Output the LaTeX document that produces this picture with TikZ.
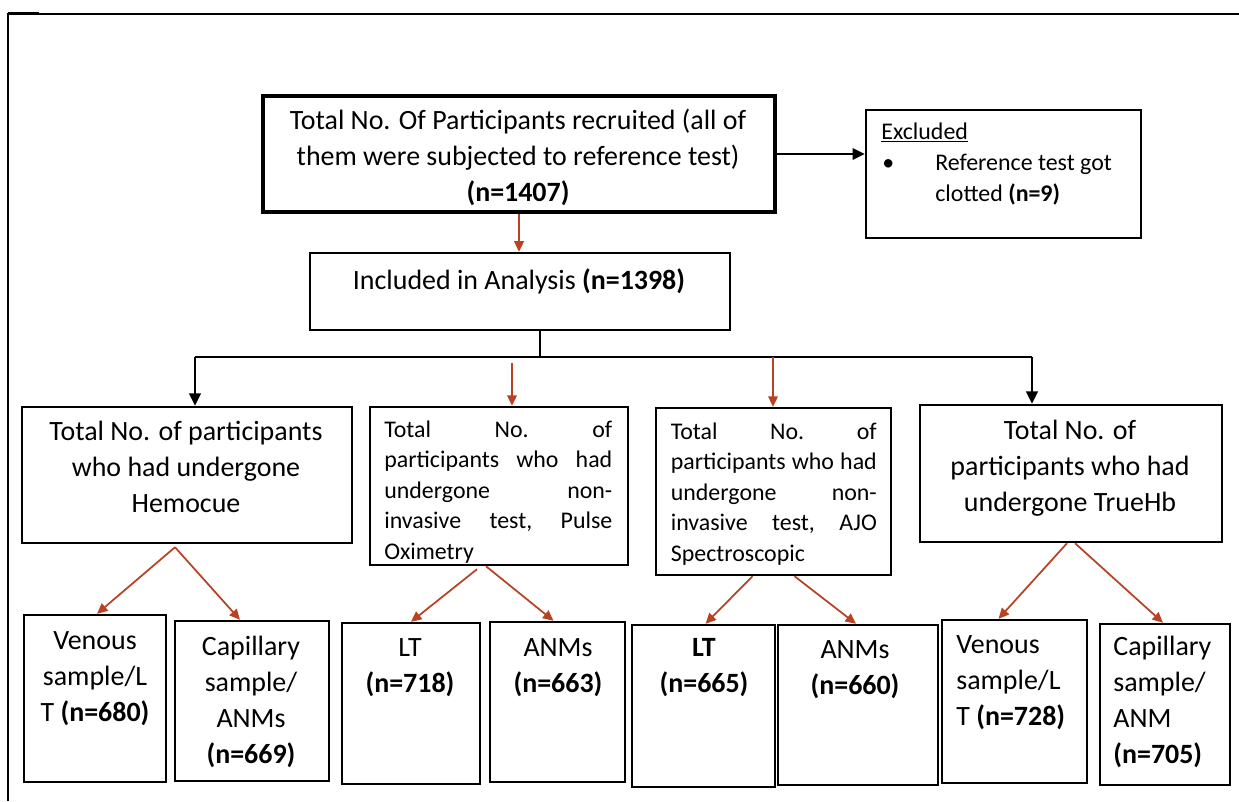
\documentclass[tikz,border=0pt]{standalone}
\usepackage{fontspec}
\setmainfont{Carlito}
\usepackage{tikz}
\usetikzlibrary{arrows.meta,calc}
\usepackage{xcolor}
\definecolor{arrowred}{RGB}{184,66,36}
\newcommand{\spreadline}[2]{\leavevmode\hbox to #1{#2}}

\begin{document}
\begin{tikzpicture}[
    x=0.02cm, y=-0.02cm,
    box/.style={rectangle, draw, line width=1.4pt, inner sep=0pt},
    bigtxt/.style={font=\fontsize{15.9}{20.4}\selectfont, align=center, inner sep=0pt, anchor=base},
    smalltxt/.style={font=\fontsize{13.6}{17.4}\selectfont, align=left, inner sep=0pt, anchor=base west},
    blackarrow/.style={-{Triangle[length=7pt,width=6.5pt]}, line width=1.3pt},
    redarrow/.style={-{Triangle[length=6pt,width=5.5pt]}, line width=1pt, arrowred}
]
    \useasboundingbox (0,0) rectangle (1239,801);
    % outer frame
    \draw[line width=1.1pt] (8,801) -- (8,14) -- (1239,14);
    \draw[line width=1.4pt] (8,13) -- (39,13);

    % boxes
    \node[box, line width=2.4pt, minimum width=10.24cm, minimum height=2.32cm] (top) at (519,154) {};
    \node[box, minimum width=5.5cm, minimum height=2.56cm] (excl) at (1003.5,174) {};
    \node[box, minimum width=8.4cm, minimum height=1.54cm] (incl) at (520,291.5) {};
    \node[box, minimum width=6.6cm, minimum height=2.72cm] (hemo) at (187,475) {};
    \node[box, minimum width=5.16cm, minimum height=3.16cm] (pulse) at (499,486) {};
    \node[box, minimum width=4.7cm, minimum height=3.34cm] (ajo) at (773.5,491.5) {};
    \node[box, minimum width=6.04cm, minimum height=2.74cm] (trueb) at (1071,473.5) {};
    \node[box, minimum width=2.84cm, minimum height=3.34cm] (hv) at (95,698.5) {};
    \node[box, minimum width=3.08cm, minimum height=3.2cm] (hc) at (252,701) {};
    \node[box, minimum width=2.76cm, minimum height=3.22cm] (plt) at (411,703.5) {};
    \node[box, minimum width=2.7cm, minimum height=3.2cm] (panm) at (557.5,702) {};
    \node[box, minimum width=2.86cm, minimum height=3.24cm] (alt) at (703.5,706) {};
    \node[box, minimum width=3.2cm, minimum height=3.2cm] (aanm) at (858,705) {};
    \node[box, minimum width=2.9cm, minimum height=3.26cm] (tv) at (1014.5,701.5) {};
    \node[box, minimum width=2.6cm, minimum height=3.22cm] (tc) at (1165,704.5) {};

    % texts (multi-line ones sit on the baseline of their last line)
    \node[bigtxt] (toptxt) at (518,201) {Total No. Of Participants recruited (all of\\them were subjected to reference test)\\\textbf{(n=1407)}};
    \node[smalltxt] (excltitle) at (881,139) {\underline{Excluded}};
    \node[smalltxt] (exclbullet) at (882,170) {\textbullet};
    \node[smalltxt] (excltxt) at (935,201) {Reference test got\\clotted \textbf{(n=9)}};
    \node[bigtxt] (incltxt) at (519,289) {Included in Analysis \textbf{(n=1398)}};
    \node[bigtxt] (hemotxt) at (186,512) {Total No. of participants\\who had undergone\\Hemocue};
    \node[smalltxt, text width=4.56cm] (pulsetxt) at (384,437) {%
        \spreadline{4.56cm}{Total\hfill No.\hfill of}\\
        \spreadline{4.56cm}{participants\hfill who\hfill had}\\
        \spreadline{4.56cm}{undergone\hfill non-}\\
        \spreadline{4.56cm}{invasive\hfill test,\hfill Pulse}\\
        Oximetry};
    \node[smalltxt, text width=4.12cm] (ajotxt) at (670.5,439) {%
        \spreadline{4.12cm}{Total\hfill No.\hfill of}\\
        \spreadline{4.12cm}{participants\hfill who\hfill had}\\
        \spreadline{4.12cm}{undergone\hfill non-}\\
        \spreadline{4.12cm}{invasive\hfill test,\hfill AJO}\\
        Spectroscopic};
    \node[bigtxt] (truetxt) at (1070,511) {Total No. of\\participants who had\\undergone TrueHb};
    \node[bigtxt] (hvtxt) at (95,721) {Venous\\sample/L\\T \textbf{(n=680)}};
    \node[bigtxt] (hctxt) at (251,763) {Capillary\\sample/\\ANMs\\\textbf{(n=669)}};
    \node[bigtxt] (plttxt) at (410,692) {LT\\\textbf{(n=718)}};
    \node[bigtxt] (panmtxt) at (558,692) {ANMs\\\textbf{(n=663)}};
    \node[bigtxt] (alttxt) at (704,692) {\textbf{LT}\\\textbf{(n=665)}};
    \node[bigtxt] (aanmtxt) at (855,694) {ANMs\\\textbf{(n=660)}};
    \node[bigtxt, anchor=base west, align=left] (tvtxt) at (956,725) {Venous\\sample/L\\T \textbf{(n=728)}};
    \node[bigtxt, anchor=base west, align=left] (tctxt) at (1113,763) {Capillary\\sample/\\ANM\\\textbf{(n=705)}};

    % connectors
    \coordinate (split) at (540,357);
    \coordinate (splitL) at (195,357);
    \coordinate (splitR) at (1032,357);
    \coordinate (redA) at (512,363);
    \coordinate (redB) at (773,357);

    \draw[blackarrow] (top.east) -- (top.east -| excl.west);
    \draw[redarrow] (top.south) -- (top.south |- incl.north);
    \draw[line width=1.3pt] (incl.south -| split) -- (split);
    \draw[line width=1.3pt] (splitL) -- (splitR);
    \draw[blackarrow] (splitL) -- (splitL |- hemo.north);
    \draw[blackarrow] (splitR) -- (splitR |- trueb.north);
    \draw[redarrow] (redA) -- (redA |- pulse.north);
    \draw[redarrow] (redB) -- (redB |- ajo.north);

    \draw[redarrow] ($(hemo.south)+(-12,3)$) -- ($(hv.north)+(2,0)$);
    \draw[redarrow] ($(hemo.south)+(-12,3)$) -- ($(hc.north)+(-12,0)$);
    \draw[redarrow] ($(pulse.south)+(-22,3)$) -- (plt.north);
    \draw[redarrow] ($(pulse.south)+(-13,0)$) -- ($(panm.north)+(-4,0)$);
    \draw[redarrow] ($(ajo.south)+(-21,0)$) -- ($(alt.north)+(2,0)$);
    \draw[redarrow] ($(ajo.south)+(21,0)$) -- ($(aanm.north)+(-2,0)$);
    \draw[redarrow] ($(trueb.south)+(-4,0)$) -- ($(tv.north)+(-16,0)$);
    \draw[redarrow] ($(trueb.south)+(4,0)$) -- ($(tc.north)+(-2,0)$);
\end{tikzpicture}
\end{document}
